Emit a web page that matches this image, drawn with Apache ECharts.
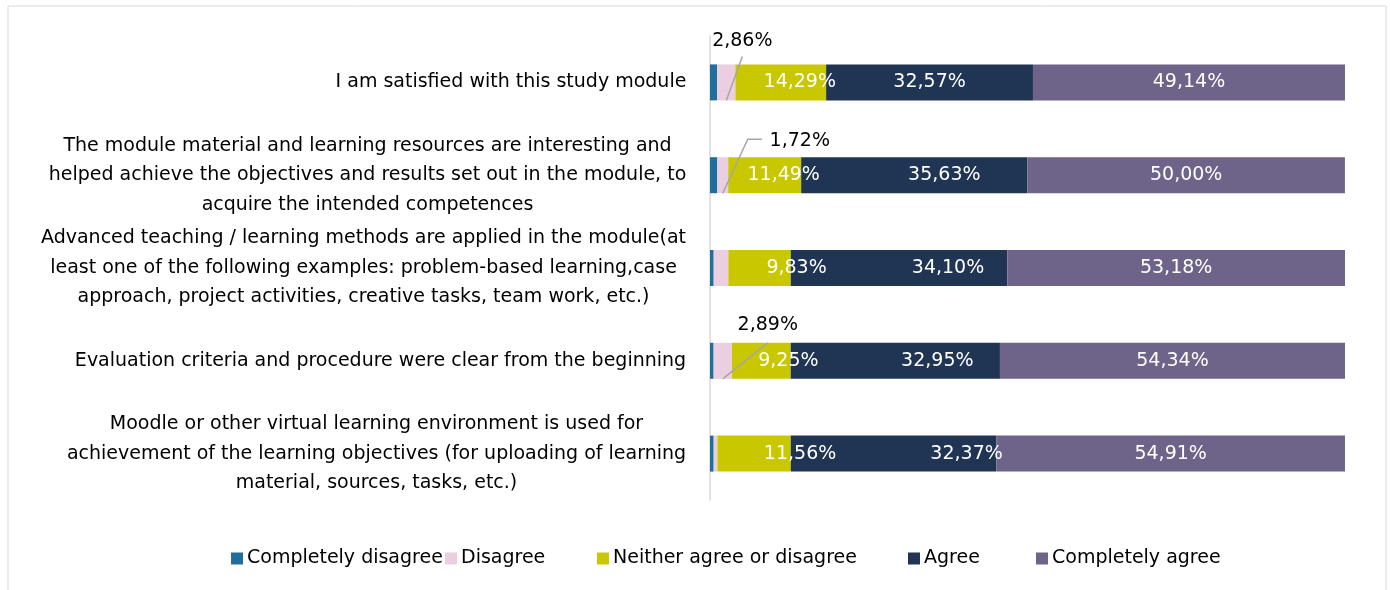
<!DOCTYPE html>
<html>
<head>
<meta charset="utf-8">
<script src="https://cdn.jsdelivr.net/npm/echarts@6/dist/echarts.min.js"></script>
<style>
  html, body { margin: 0; padding: 0; background: #fff; }
  #chart { width: 1390px; height: 590px; }
</style>
</head>
<body>
<div id="chart"></div>
<script>
// Survey statements (top to bottom)
const categories = [
  'I am satisfied with this study module',
  'The module material and learning resources are interesting and\nhelped achieve the objectives and results set out in the module, to\nacquire the intended competences',
  'Advanced teaching / learning methods are applied in the module(at\nleast one of the following examples: problem-based learning,case\napproach, project activities, creative tasks, team work, etc.)',
  'Evaluation criteria and procedure were clear from the beginning',
  'Moodle or other virtual learning environment is used for\nachievement of the learning objectives (for uploading of learning\nmaterial, sources, tasks, etc.)'
];

// Answer shares, % of respondents
const completelyDisagree = [1.14, 1.15, 0.58, 0.57, 0.58];
const disagree           = [2.86, 1.72, 2.31, 2.89, 0.58];
const neither            = [14.29, 11.49, 9.83, 9.25, 11.56];
const agree              = [32.57, 35.63, 34.10, 32.95, 32.37];
const completelyAgree    = [49.14, 50.00, 53.18, 54.34, 54.91];

const seriesNames = ['Completely disagree', 'Disagree', 'Neither agree or disagree', 'Agree', 'Completely agree'];
const colors = ['#1F6E9B', '#EBCFE0', '#C9C800', '#1F3553', '#6E6489'];

// Which values carry a data label
const showLabel = [
  [false, false, false, false, false],
  [true, true, false, true, false],
  [true, true, true, true, true],
  [true, true, true, true, true],
  [true, true, true, true, true]
];

// Label displacement (dx, dy) per series / row
const labelShift = {
  1: { 0: [16, -41], 1: [77, -34], 3: [45, -36] },
  2: { 0: [19, 0], 1: [19, 0], 2: [37, 0], 3: [27, 0], 4: [46, 0] },
  3: { 1: [30, 0], 2: [49, 0], 3: [42, 0], 4: [73, 0] }
};

// Leader-line bend points for the callout labels, relative to the label centre
const leaderBends = {
  0: [[0, 15]],
  1: [[-52, -2], [-38, -2]],
  3: [[0, 18]]
};

const FONT_NAME = 'DejaVu Sans';
const FONT = '"DejaVu Sans", "Noto Sans", sans-serif';
const SIZE = 19;
const BAR_W = 36;

const fmt = v => v.toFixed(2).replace('.', ',') + '%';

// Measure each label block so its lines can be centred inside a right-aligned block
const ctx = document.createElement('canvas').getContext('2d');
ctx.font = SIZE + 'px "' + FONT_NAME + '"';
const rich = {};
categories.forEach((c, i) => {
  const w = Math.max(...c.split('\n').map(l => ctx.measureText(l).width));
  rich['c' + i] = { width: Math.ceil(w) + 1, align: 'center', fontSize: SIZE, fontFamily: FONT, color: '#000', lineHeight: 29.5 };
});

const allValues = [completelyDisagree, disagree, neither, agree, completelyAgree];

const series = allValues.map((vals, s) => ({
  name: seriesNames[s],
  type: 'bar',
  stack: 'total',
  barWidth: BAR_W,
  itemStyle: { color: colors[s] },
  data: vals.map((v, i) => ({
    value: v,
    label: { show: showLabel[s][i] }
  })),
  label: {
    show: true,
    position: 'inside',
    color: s === 1 ? '#000' : '#fff',
    fontSize: SIZE,
    fontFamily: FONT,
    formatter: p => fmt(p.value)
  },
  labelLayout: p => {
    const t = labelShift[s] && labelShift[s][p.dataIndex];
    return t ? { dx: t[0], dy: t[1] } : {};
  }
}));

const legendLeft = [226, 440, 592, 903, 1031];
const legends = seriesNames.map((n, i) => ({
  data: [n],
  left: legendLeft[i],
  top: 544,
  icon: 'rect',
  itemWidth: 12,
  itemHeight: 12,
  selectedMode: false,
  textStyle: { fontSize: SIZE, fontFamily: FONT, color: '#000', padding: [0, 0, 0, -1] }
}));

const chart = echarts.init(document.getElementById('chart'), null, { renderer: 'canvas' });
chart.setOption({
  animation: false,
  backgroundColor: '#fff',
  color: colors,
  grid: { left: 710, right: 45, top: 36, bottom: 90 },
  xAxis: { type: 'value', min: 0, max: 100, show: false },
  yAxis: {
    type: 'category',
    inverse: true,
    data: categories,
    axisLine: { show: true, lineStyle: { color: '#D9D9D9', width: 1.5 } },
    axisTick: { show: false },
    axisLabel: {
      margin: 23,
      align: 'right',
      formatter: (v, i) => v.split('\n').map(l => '{c' + i + '|' + l + '}').join('\n'),
      rich: rich
    }
  },
  legend: legends,
  graphic: [{
    id: 'frame',
    type: 'rect',
    shape: { x: 8, y: 6, width: 1378, height: 600 },
    style: { fill: 'none', stroke: '#D9D9D9', lineWidth: 1 },
    silent: true
  }],
  series: series
});

// Leader lines for the "Disagree" callouts: from the bottom of the segment to its label
const leaders = Object.keys(leaderBends).map(k => {
  const i = +k;
  const mid = completelyDisagree[i] + disagree[i] / 2;
  const p = chart.convertToPixel({ gridIndex: 0 }, [mid, i]);
  const shift = labelShift[1][i];
  const cx = p[0] + shift[0], cy = p[1] + shift[1];
  const pts = [[p[0], p[1] + BAR_W / 2]].concat(leaderBends[i].map(b => [cx + b[0], cy + b[1]]));
  return {
    id: 'leader' + i,
    type: 'polyline',
    z: 100,
    shape: { points: pts },
    style: { stroke: '#A6A6A6', lineWidth: 1.5, fill: null },
    silent: true
  };
});
chart.setOption({ graphic: leaders });
</script>
</body>
</html>
